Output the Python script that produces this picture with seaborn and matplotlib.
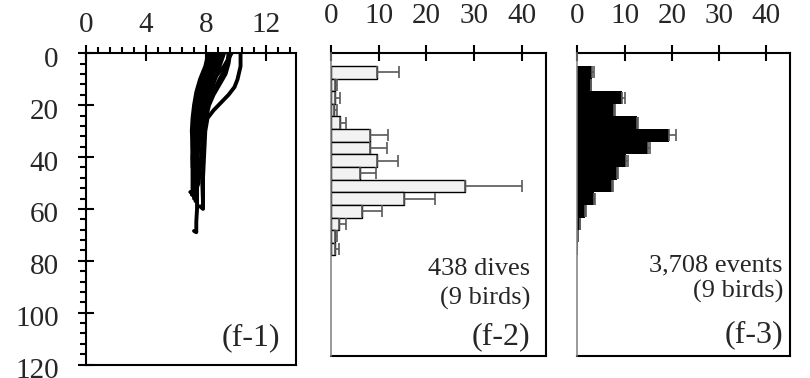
import matplotlib
matplotlib.use("Agg")
import matplotlib.pyplot as plt
import seaborn as sns
import pandas as pd
from matplotlib.ticker import MultipleLocator
from matplotlib.transforms import ScaledTranslation

# (f-1) dive profiles: depth (m) and value, one list per dive
f1_depths = [
    [0, 5, 10, 13, 16, 19, 22, 25, 30, 36, 42, 48, 54, 60, 59],
    [0, 5, 10, 15, 20, 25, 30, 36, 42, 48, 53],
    [0, 5, 10, 15, 20, 26, 32, 38, 44, 50, 55, 54.5],
    [0, 5, 10, 15, 20, 25, 30, 35, 40, 45, 50, 55, 60, 65, 69, 68.5],
    [0, 5, 10, 15, 20, 25, 30, 35, 40, 45, 50, 56],
    [0, 5, 10, 15, 20, 25, 30, 35, 40, 45, 50, 54, 53.5],
    [0, 5, 10, 15, 20, 25, 30, 35, 40, 45, 51],
    [0, 5, 10, 15, 20, 25, 30, 35, 40, 45, 50, 57],
    [0, 5, 10, 15, 20, 25, 30, 35, 40, 46],
    [0, 4, 8, 12, 16, 20, 25, 30, 35, 40, 45, 50, 58],
    [0, 5, 10, 15, 20, 25, 30, 35, 40, 44],
]
f1_values = [
    [10.3, 10.3, 10.1, 9.9, 9.5, 9.0, 8.5, 8.1, 7.95, 7.9, 7.85, 7.8, 7.8, 7.8, 7.6],
    [9.7, 9.2, 8.5, 8.1, 7.9, 7.7, 7.6, 7.5, 7.4, 7.4, 7.3],
    [9.5, 9.4, 8.9, 8.5, 8.1, 7.9, 7.8, 7.7, 7.6, 7.5, 7.2, 7.05],
    [9.2, 8.9, 8.6, 8.3, 8.0, 7.8, 7.6, 7.5, 7.4, 7.4, 7.4, 7.4, 7.4, 7.35, 7.35, 7.2],
    [9.0, 8.7, 8.3, 8.0, 7.7, 7.5, 7.4, 7.3, 7.3, 7.2, 7.2, 7.2],
    [8.8, 8.5, 8.1, 7.8, 7.5, 7.3, 7.2, 7.2, 7.1, 7.1, 7.1, 7.1, 6.95],
    [8.6, 8.3, 8.0, 7.7, 7.5, 7.4, 7.3, 7.2, 7.2, 7.3, 7.3],
    [8.4, 8.1, 7.8, 7.5, 7.3, 7.2, 7.15, 7.1, 7.1, 7.15, 7.2, 7.3],
    [8.2, 8.0, 7.7, 7.4, 7.25, 7.2, 7.1, 7.1, 7.15, 7.2],
    [9.6, 9.5, 9.3, 8.9, 8.5, 8.2, 8.0, 7.9, 7.85, 7.8, 7.8, 7.75, 7.8],
    [8.15, 7.95, 7.6, 7.35, 7.2, 7.1, 7.05, 7.1, 7.1, 7.1],
]

# (f-2), (f-3): 5 m depth bins (centres)
bin_depth = [7.5, 12.5, 17.5, 22.5, 27.5, 32.5, 37.5, 42.5, 47.5, 52.5,
             57.5, 62.5, 67.5, 72.5, 77.5]
f2_mean = [9.6, 0.85, 0.85, 0.6, 1.9, 8.2, 8.1, 9.6, 6.1, 28.1,
           15.4, 6.5, 1.7, 0.85, 0.85]
f2_err = [4.6, 0.35, 1.05, 0.7, 1.3, 3.7, 3.6, 4.4, 3.4, 11.9,
          6.5, 4.2, 1.5, 0.45, 0.85]
f3_mean = [3.2, 2.8, 9.5, 7.7, 12.6, 19.5, 15.0, 10.3, 8.3, 7.3,
           3.5, 1.7, 0.5, 0.1, 0.0]
f3_err = [0.3, 0.15, 0.5, 0.2, 0.2, 1.4, 0.3, 0.5, 0.3, 0.3,
          0.2, 0.2, 0.1, 0.05, 0.0]

sns.set_theme(style="white")
plt.rcParams["font.family"] = ["Liberation Serif", "DejaVu Serif"]

fig = plt.figure(figsize=(8.1, 3.78), dpi=100)
ax1 = fig.add_axes([0.1062, 0.0357, 0.2593, 0.8233])
ax2 = fig.add_axes([0.4086, 0.0569, 0.2651, 0.8021])
ax3 = fig.add_axes([0.7127, 0.0569, 0.2626, 0.8021])

TICK = 21
NOTE = 19
TAG = 23
LW = 1.5
ERRC = "#595959"

# ---- (f-1)
for d, v in zip(f1_depths, f1_values):
    sns.lineplot(x=v, y=d, sort=False, estimator=None, color="black",
                 lw=2.8, ax=ax1)
ax1.set_xlim(0, 14)
ax1.set_ylim(120, 0)
ax1.set_xticks([0, 4, 8, 12])
ax1.set_yticks([0, 20, 40, 60, 80, 100, 120])
ax1.xaxis.set_minor_locator(MultipleLocator(0.8))
ax1.yaxis.set_minor_locator(MultipleLocator(4))
ax1.xaxis.tick_top()
ax1.tick_params(which="major", direction="inout", length=11.5, width=LW,
                color="black", labelsize=TICK)
ax1.tick_params(which="minor", direction="out", length=4, width=LW,
                color="black")
ax1.tick_params(axis="x", which="both", top=True, bottom=False,
                labeltop=True, labelbottom=False)
ax1.tick_params(axis="x", which="major", pad=5)
ax1.tick_params(axis="y", which="both", left=True, right=False)
ax1.tick_params(axis="y", which="major", pad=14)
ax1.set_xlabel("")
ax1.set_ylabel("")
ax1.text(0.924, 0.063, "(f-1)", transform=ax1.transAxes, ha="right",
         va="baseline", fontsize=TAG)

# ---- (f-2) and (f-3)
def hist_panel(ax, mean, err, face, edge, elw):
    df = pd.DataFrame({"depth": bin_depth, "mean": mean})
    sns.barplot(data=df, x="mean", y="depth", orient="h", native_scale=True,
                width=1, color=face, saturation=1, edgecolor=edge,
                linewidth=elw, errorbar=None, ax=ax)
    ax.errorbar(mean, bin_depth, xerr=[[0] * len(err), err], fmt="none",
                ecolor=ERRC, elinewidth=1.2, capsize=4.3, capthick=1.2)
    ax.set_xlim(0, 45)
    ax.set_ylim(120, 0)
    ax.set_xticks([0, 10, 20, 30, 40])
    ax.set_yticks([])
    ax.xaxis.tick_top()
    ax.tick_params(axis="x", which="major", direction="inout", length=11.5,
                   width=LW, color="black", labelsize=TICK, pad=11.5,
                   top=True, bottom=False, labeltop=True, labelbottom=False)
    ax.set_xlabel("")
    ax.set_ylabel("")
    for s in ["top", "right", "bottom"]:
        ax.spines[s].set_color("black")
        ax.spines[s].set_linewidth(LW)
    ax.spines["left"].set_color("#7f7f7f")
    ax.spines["left"].set_linewidth(1.1)
    ax.spines["left"].set_zorder(5)

hist_panel(ax2, f2_mean, f2_err, "#f2f2f2", "black", 1.0)
hist_panel(ax3, f3_mean, f3_err, "black", "none", 0)

for sp in ax1.spines.values():
    sp.set_color("black")
    sp.set_linewidth(LW)

ax2.text(0.927, 0.269, "438 dives", transform=ax2.transAxes, ha="right",
         va="baseline", fontsize=NOTE)
ax2.text(0.927, 0.170, "(9 birds)", transform=ax2.transAxes, ha="right",
         va="baseline", fontsize=NOTE)
ax2.text(0.927, 0.041, "(f-2)", transform=ax2.transAxes, ha="right",
         va="baseline", fontsize=TAG)
ax3.text(0.967, 0.282, "3,708 events", transform=ax3.transAxes, ha="right",
         va="baseline", fontsize=NOTE)
ax3.text(0.967, 0.193, "(9 birds)", transform=ax3.transAxes, ha="right",
         va="baseline", fontsize=NOTE)
ax3.text(0.967, 0.048, "(f-3)", transform=ax3.transAxes, ha="right",
         va="baseline", fontsize=TAG)

# y labels in the reference sit a little below their ticks
shift = ScaledTranslation(0, -0.035, fig.dpi_scale_trans)
for lab in ax1.get_yticklabels():
    lab.set_transform(lab.get_transform() + shift)

fig.savefig("out.png", dpi=100)
